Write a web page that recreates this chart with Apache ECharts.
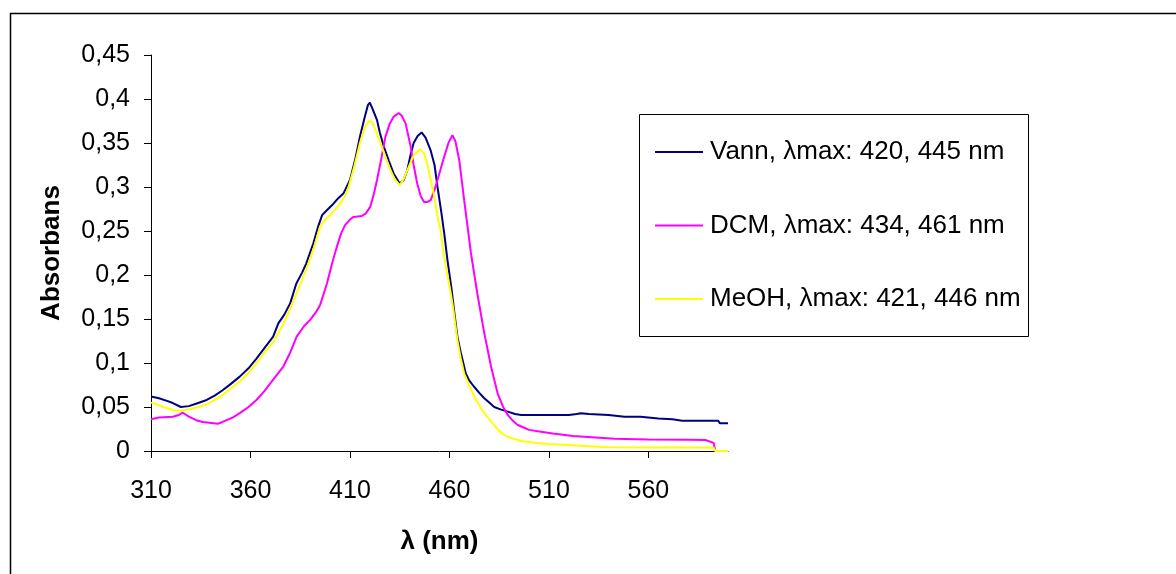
<!DOCTYPE html>
<html>
<head>
<meta charset="utf-8">
<script src="https://cdn.jsdelivr.net/npm/echarts@6/dist/echarts.min.js"></script>
<style>
html,body{margin:0;padding:0;background:#fff;}
#chart{width:1176px;height:574px;}
</style>
</head>
<body>
<div id="chart"></div>
<script>
// ---- data ----
const seriesNames = ['Vann, λmax: 420, 445 nm', 'DCM, λmax: 434, 461 nm', 'MeOH, λmax: 421, 446 nm'];
const xTickLabels = [310, 360, 410, 460, 510, 560];
const yTickLabels = [0, 0.05, 0.1, 0.15, 0.2, 0.25, 0.3, 0.35, 0.4, 0.45];

const vannX = [310,314,318,321,325,329,333,338,342,346,350,354.6,359,363,367,371.4,374,377,380,383,386,388,391.6,394,396,399,401.7,404,406.8,410,412.5,415,417.5,419,420,421.5,423.6,425,427,429.5,432,435,437,438.8,440.5,442,444,446,448,450.5,452.5,454,456,457.5,459,461,462.3,464,465.7,468.2,470,472.4,475,477.5,480,482.5,486,489.3,493,496,510,520,524,526,530,540,548,556,565,572,577,595,596,600];
const vannY = [0.062,0.060,0.057,0.0545,0.050,0.051,0.054,0.058,0.063,0.069,0.076,0.0845,0.094,0.105,0.117,0.130,0.145,0.155,0.168,0.19,0.203,0.213,0.236,0.255,0.268,0.275,0.281,0.287,0.293,0.308,0.330,0.357,0.380,0.393,0.396,0.388,0.376,0.362,0.346,0.330,0.315,0.304,0.308,0.319,0.337,0.35,0.358,0.362,0.356,0.342,0.325,0.30,0.27,0.245,0.217,0.185,0.160,0.13,0.112,0.088,0.080,0.073,0.066,0.060,0.055,0.050,0.047,0.0447,0.042,0.041,0.041,0.041,0.042,0.043,0.042,0.041,0.039,0.039,0.037,0.036,0.0345,0.0345,0.0315,0.0315];

const dcmX = [310,314,321,324,326,329,332.7,336,339.4,343.6,346,348,351,354.6,359,363,367,371.4,376.5,380,383.2,387,390,393,395,398.4,401,403.4,405.5,407.6,410,411.8,416,418,420.3,422,423.6,426,427.8,430,432,434.5,436,438,440.5,442,443.8,445.5,447.2,449,450.6,452.5,454,457.3,459.5,461.5,463,464.9,467.4,470.8,474,477.5,480.9,484.2,487,489.3,492,494.3,497,500,506,512,522,543,560,580,588.6,592.8,593.6,600];
const dcmY = [0.036,0.038,0.039,0.041,0.0435,0.039,0.035,0.033,0.032,0.031,0.033,0.035,0.038,0.043,0.050,0.058,0.068,0.081,0.096,0.112,0.130,0.142,0.149,0.158,0.166,0.19,0.213,0.232,0.247,0.257,0.263,0.266,0.267,0.270,0.278,0.292,0.308,0.335,0.357,0.372,0.380,0.384,0.381,0.372,0.346,0.325,0.304,0.290,0.283,0.283,0.285,0.297,0.308,0.334,0.350,0.359,0.352,0.331,0.285,0.225,0.179,0.134,0.096,0.0655,0.050,0.041,0.034,0.0295,0.027,0.024,0.022,0.020,0.017,0.0138,0.013,0.0128,0.0125,0.0092,0,0];

const meohX = [310,313,316,319,321.8,326,329.3,334,337.8,342,346,350,354.6,359,363,367,371.4,376,380,384,388.3,392,395,397.5,400,402.5,405,407.5,409.3,412,415,417.5,419.4,421,423,425.3,428,430.4,432.5,435,437,438.8,440.5,442,445.2,447.2,449,450.6,452.5,454,455.6,457.3,459,460.7,462,464,465.7,467.4,470,472.4,475,477.5,480,482.5,485,487.6,490,492.6,497,502.7,510,519.6,530,539.8,560,580,592.8,593.6,600];
const meohY = [0.055,0.053,0.050,0.048,0.046,0.046,0.0474,0.050,0.053,0.058,0.0636,0.071,0.079,0.089,0.0997,0.112,0.124,0.142,0.162,0.184,0.2076,0.232,0.255,0.263,0.268,0.274,0.281,0.290,0.300,0.322,0.350,0.368,0.375,0.374,0.364,0.350,0.333,0.319,0.309,0.302,0.309,0.319,0.328,0.336,0.343,0.338,0.325,0.308,0.288,0.266,0.250,0.221,0.200,0.179,0.160,0.126,0.105,0.088,0.074,0.062,0.052,0.043,0.036,0.0295,0.023,0.018,0.0155,0.0136,0.011,0.0094,0.008,0.0068,0.0055,0.0042,0.004,0.004,0.0038,0,0];

const colors = ['#000080', '#FF00FF', '#FFFF00'];

function zip(xs, ys){ return xs.map((x,i)=>[x, ys[i]]); }
const FONT = "'Liberation Sans', Arial, sans-serif";

const chart = echarts.init(document.getElementById('chart'), null, {renderer:'canvas'});
chart.setOption({
  animation: false,
  backgroundColor: '#fff',
  grid: {left: 151, right: 448, top: 55, bottom: 123, containLabel: false},
  graphic: [
    {type:'rect', shape:{x:10.5, y:13.5, width:1200, height:620}, style:{fill:'none', stroke:'#000', lineWidth:1.5}, silent:true},
    {type:'rect', shape:{x:639.5, y:114.5, width:389, height:222}, style:{fill:'none', stroke:'#000', lineWidth:1}, silent:true}
  ],
  legend: {
    orient: 'vertical',
    left: 655, top: 139,
    padding: 0,
    itemWidth: 48, itemHeight: 2,
    itemGap: 47.5,
    icon: 'rect',
    textStyle: {fontFamily: FONT, fontSize: 26, color: '#000', padding:[0,0,0,2]},
    data: seriesNames
  },
  xAxis: {
    type: 'value', min: 310, max: 600,
    name: 'λ (nm)', nameLocation: 'middle', nameGap: 78,
    nameTextStyle: {fontFamily: FONT, fontSize: 26, fontWeight: 'bold', color: '#000'},
    axisLine: {show: true, lineStyle: {color: '#000', width: 1}},
    axisTick: {show: true, length: 7, lineStyle: {color: '#000'}, customValues: xTickLabels},
    axisLabel: {fontFamily: FONT, fontSize: 25, color: '#000', margin: 28, customValues: xTickLabels},
    splitLine: {show: false}
  },
  yAxis: {
    type: 'value', min: 0, max: 0.45,
    name: 'Absorbans', nameLocation: 'middle', nameGap: 86,
    nameTextStyle: {fontFamily: FONT, fontSize: 26, fontWeight: 'bold', color: '#000'},
    axisLine: {show: true, lineStyle: {color: '#000', width: 1}},
    axisTick: {show: true, length: 7, lineStyle: {color: '#000'}, customValues: yTickLabels},
    axisLabel: {fontFamily: FONT, fontSize: 25, color: '#000', margin: 21, customValues: yTickLabels,
      formatter: v => String(parseFloat(Number(v).toFixed(2))).replace('.', ',')},
    splitLine: {show: false}
  },
  series: [
    {name: seriesNames[0], type:'line', data: zip(vannX, vannY), showSymbol:false, symbol:'none', color: colors[0], lineStyle:{width:2, color: colors[0]}},
    {name: seriesNames[1], type:'line', data: zip(dcmX, dcmY), showSymbol:false, symbol:'none', color: colors[1], lineStyle:{width:2, color: colors[1]}},
    {name: seriesNames[2], type:'line', data: zip(meohX, meohY), showSymbol:false, symbol:'none', color: colors[2], lineStyle:{width:2, color: colors[2]}}
  ]
});
</script>
</body>
</html>
